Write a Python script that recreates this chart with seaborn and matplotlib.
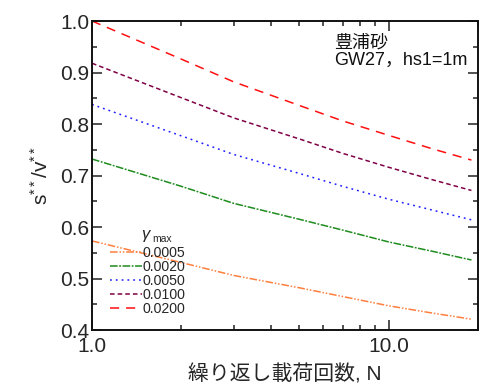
import numpy as np
import pandas as pd
import matplotlib
matplotlib.use("Agg")
import matplotlib.pyplot as plt
import matplotlib.ticker as mticker
import seaborn as sns

sns.set_theme(style="white")
plt.rcParams["font.family"] = ["Liberation Sans", "Noto Sans CJK JP", "DejaVu Sans"]
plt.rcParams["mathtext.fontset"] = "custom"
plt.rcParams["mathtext.rm"] = "Liberation Sans"
plt.rcParams["mathtext.it"] = "Liberation Sans:italic"

# Number of loading cycles
N = [1, 2, 3, 5, 7, 10, 14, 19]

# Strength ratio per maximum shear strain amplitude
r_0005 = [0.573, 0.531, 0.506, 0.482, 0.465, 0.447, 0.433, 0.421]
r_0020 = [0.732, 0.679, 0.646, 0.615, 0.594, 0.571, 0.553, 0.536]
r_0050 = [0.838, 0.777, 0.741, 0.704, 0.679, 0.654, 0.633, 0.614]
r_0100 = [0.918, 0.851, 0.812, 0.771, 0.743, 0.716, 0.692, 0.671]
r_0200 = [1.000, 0.926, 0.882, 0.836, 0.806, 0.778, 0.752, 0.730]

gamma_labels = ["0.0005", "0.0020", "0.0050", "0.0100", "0.0200"]
series = [r_0005, r_0020, r_0050, r_0100, r_0200]

colors = {
    "0.0005": "#FF7F3F",
    "0.0020": "#1E8C1E",
    "0.0050": "#1E1EFF",
    "0.0100": "#800045",
    "0.0200": "#FF1010",
}
dashes = {
    "0.0005": (5, 1.2, 1, 1.2, 1, 1.2),
    "0.0020": (5, 1, 1.2, 1),
    "0.0050": (1.2, 2.6),
    "0.0100": (3, 2),
    "0.0200": (6, 4.5),
}

df = pd.concat(
    [pd.DataFrame({"N": N, "ratio": v, "gamma": g}) for g, v in zip(gamma_labels, series)],
    ignore_index=True,
)

fig = plt.figure(figsize=(4.8, 3.9), dpi=100)
ax = fig.add_axes([0.1917, 0.1538, 0.8042, 0.7923])

sns.lineplot(
    data=df, x="N", y="ratio", hue="gamma", style="gamma",
    palette=colors, dashes=dashes, hue_order=gamma_labels, style_order=gamma_labels,
    linewidth=1.1, legend=False, ax=ax, sort=False,
)

ax.set_xscale("log")
ax.set_xlim(1, 20)
ax.set_ylim(0.4, 1.0)
ax.xaxis.set_major_locator(mticker.FixedLocator([1, 10]))
ax.xaxis.set_major_formatter(mticker.FixedFormatter(["1.0", "10.0"]))
ax.xaxis.set_minor_locator(mticker.FixedLocator([2, 3, 4, 5, 6, 7, 8, 9, 20]))
ax.xaxis.set_minor_formatter(mticker.NullFormatter())
ax.yaxis.set_major_locator(mticker.MultipleLocator(0.1))
ax.yaxis.set_minor_locator(mticker.MultipleLocator(0.05))
ax.yaxis.set_major_formatter(mticker.FormatStrFormatter("%.1f"))

ax.tick_params(which="both", direction="in", top=True, right=True,
               bottom=True, left=True, color="#222222", width=1.1)
ax.tick_params(which="major", length=7, labelsize=15)
ax.tick_params(axis="y", which="major", pad=2)
ax.tick_params(axis="x", which="major", pad=5)
ax.tick_params(which="minor", length=3.5)
for s in ax.spines.values():
    s.set_color("#111111")
    s.set_linewidth(1.4)

ax.set_xlabel("繰り返し載荷回数, N", fontsize=15, labelpad=6)
ax.set_ylabel(r"s$^{**}$/v$^{**}$", fontsize=15, labelpad=6)

ax.text(0.628, 0.955, "豊浦砂\nGW27，hs1=1m", transform=ax.transAxes,
        fontsize=13, va="top", ha="left", linespacing=0.98, color="#111111")

handles = ax.get_lines()[:len(gamma_labels)]
leg = ax.legend(handles, gamma_labels, loc="lower left",
                bbox_to_anchor=(0.047, 0.045), frameon=False, fontsize=10.2,
                handlelength=2.25, handletextpad=0.05, labelspacing=0.0,
                borderaxespad=0.0, borderpad=0.0)
ax.text(0.128, 0.279, r"$\gamma$", transform=ax.transAxes, fontsize=12,
        va="bottom", ha="left")
ax.text(0.156, 0.277, "max", transform=ax.transAxes, fontsize=7.5,
        va="bottom", ha="left")

fig.savefig("out.png", dpi=100)
